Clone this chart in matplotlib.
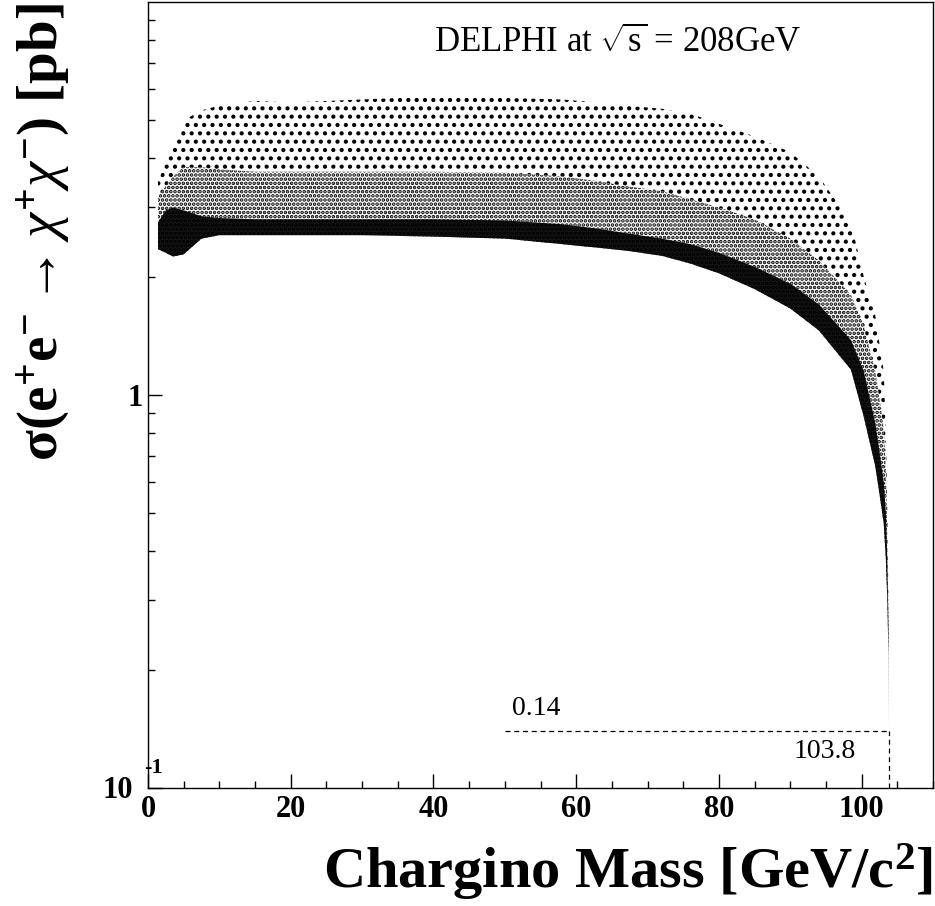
import numpy as np
import matplotlib.pyplot as plt
from matplotlib.ticker import MultipleLocator, LogLocator, NullFormatter

plt.rcParams['font.family'] = ['Liberation Serif', 'DejaVu Serif']
plt.rcParams['mathtext.fontset'] = 'custom'
plt.rcParams['mathtext.rm'] = 'Liberation Serif'
plt.rcParams['mathtext.it'] = 'Liberation Serif:italic'
plt.rcParams['mathtext.bf'] = 'Liberation Serif:bold'
plt.rcParams['hatch.linewidth'] = 1.8

# edges of the scan cloud (mass in GeV/c2, sigma in pb)
mass       = [1.4, 2.5, 3.5, 5, 7.5, 10, 15, 20, 30, 40, 50, 58, 63, 67, 72, 76, 80, 85, 90, 94,
              98.5, 100.3, 101.9, 102.5, 103.1, 103.4, 103.6, 103.75, 103.8]
sigma_top  = [3.5, 3.9, 4.3, 5.0, 5.3, 5.45, 5.6, 5.55, 5.65, 5.75, 5.7, 5.65, 5.55, 5.45, 5.35, 5.2, 4.9, 4.55, 4.15, 3.6,
              2.75, 2.0, 1.6, 1.35, 1.15, 0.8, 0.5, 0.3, 0.14]
sigma_mid  = [3.2, 3.4, 3.6, 3.8, 3.8, 3.75, 3.7, 3.7, 3.7, 3.7, 3.68, 3.6, 3.5, 3.4, 3.3, 3.15, 3.0, 2.8, 2.5, 2.2,
              1.8, 1.5, 1.15, 0.98, 0.82, 0.64, 0.43, 0.28, 0.14]
sigma_band = [2.75, 2.95, 3.0, 2.95, 2.85, 2.82, 2.8, 2.8, 2.8, 2.8, 2.78, 2.72, 2.65, 2.58, 2.5, 2.42, 2.3, 2.12, 1.92, 1.7,
              1.38, 1.15, 0.85, 0.72, 0.6, 0.5, 0.38, 0.26, 0.14]
sigma_low  = [2.35, 2.3, 2.25, 2.28, 2.5, 2.55, 2.55, 2.55, 2.55, 2.53, 2.5, 2.42, 2.37, 2.33, 2.26, 2.16, 2.04, 1.86, 1.66, 1.46,
              1.16, 0.88, 0.66, 0.56, 0.47, 0.38, 0.3, 0.22, 0.14]

# limite
limit_sigma = 0.14
limit_mass = 103.8

x_ticks = [0, 20, 40, 60, 80, 100]

fig = plt.figure(figsize=(9.35, 9.06), dpi=100)
ax = fig.add_axes([148/935, 1 - 788/906, 785/935, 786/906])
ax.set_yscale('log')
ax.set_xlim(0, 110)
ax.set_ylim(0.1, 10)

# nuage de points : trois densites
ax.fill_between(mass, sigma_mid, sigma_top, facecolor='none', edgecolor='black', hatch='..', linewidth=0)
ax.fill_between(mass, sigma_band, sigma_mid, facecolor='none', edgecolor='black', hatch='....', linewidth=0)
ax.fill_between(mass, sigma_low, sigma_band, facecolor='#141414', edgecolor='black', hatch='....', linewidth=0)

# lignes de la limite
ax.plot([50, limit_mass], [limit_sigma, limit_sigma], color='black', lw=0.9, ls=(0, (4, 3)))
ax.plot([limit_mass, limit_mass], [0.1, limit_sigma], color='black', lw=0.9, ls=(0, (4, 3)))
ax.annotate('%.2f' % limit_sigma, (51, limit_sigma), xytext=(0, 7), textcoords='offset points',
            fontsize=20, ha='left', va='bottom')
ax.annotate('%.1f' % limit_mass, (99.2, limit_sigma), xytext=(0, -6), textcoords='offset points',
            fontsize=20, ha='right', va='top')

# axes
for s in ['top', 'right', 'left', 'bottom']:
    ax.spines[s].set_linewidth(1.0)
ax.set_xticks(x_ticks)
ax.set_xticklabels([str(t) for t in x_ticks], fontsize=22, fontweight='bold')
ax.xaxis.set_minor_locator(MultipleLocator(5))
ax.set_yticks([0.1, 1])
ax.set_yticklabels(['', '1'], fontsize=22, fontweight='bold')
ax.yaxis.set_minor_locator(LogLocator(base=10, subs=np.arange(2, 10)))
ax.yaxis.set_minor_formatter(NullFormatter())
ax.tick_params(which='both', direction='in', top=False, right=False, width=1)
ax.tick_params(which='major', length=10)
ax.tick_params(which='minor', length=5)
ax.tick_params(axis='x', pad=5)
ax.tick_params(axis='y', pad=4)

fig.text(133/935, 1 - 790/906, '10', fontsize=22, fontweight='bold', ha='right', va='center')
fig.text(144/935, 1 - 768/906, '-1', fontsize=16, fontweight='bold', ha='left', va='center')

fig.text(434/935, 1 - 52/906, r'DELPHI at $\sqrt{\mathrm{s}}$ = 208GeV', fontsize=25, ha='left', va='baseline')

fig.text(43/935, 1 - 3/906,
         r'$\mathbf{\sigma}$(e$^{\mathbf{+}}$e$^{\mathbf{-}}\rightarrow\chi^{\mathbf{+}}\chi^{\mathbf{-}}$) [pb]',
         fontsize=41, fontweight='bold', rotation=90, ha='center', va='top')
fig.text(933/935, 1 - 888/906, r'Chargino Mass [GeV/c$^{\mathbf{2}}$]',
         fontsize=42, fontweight='bold', ha='right', va='baseline')

fig.savefig('out.png', dpi=100)
